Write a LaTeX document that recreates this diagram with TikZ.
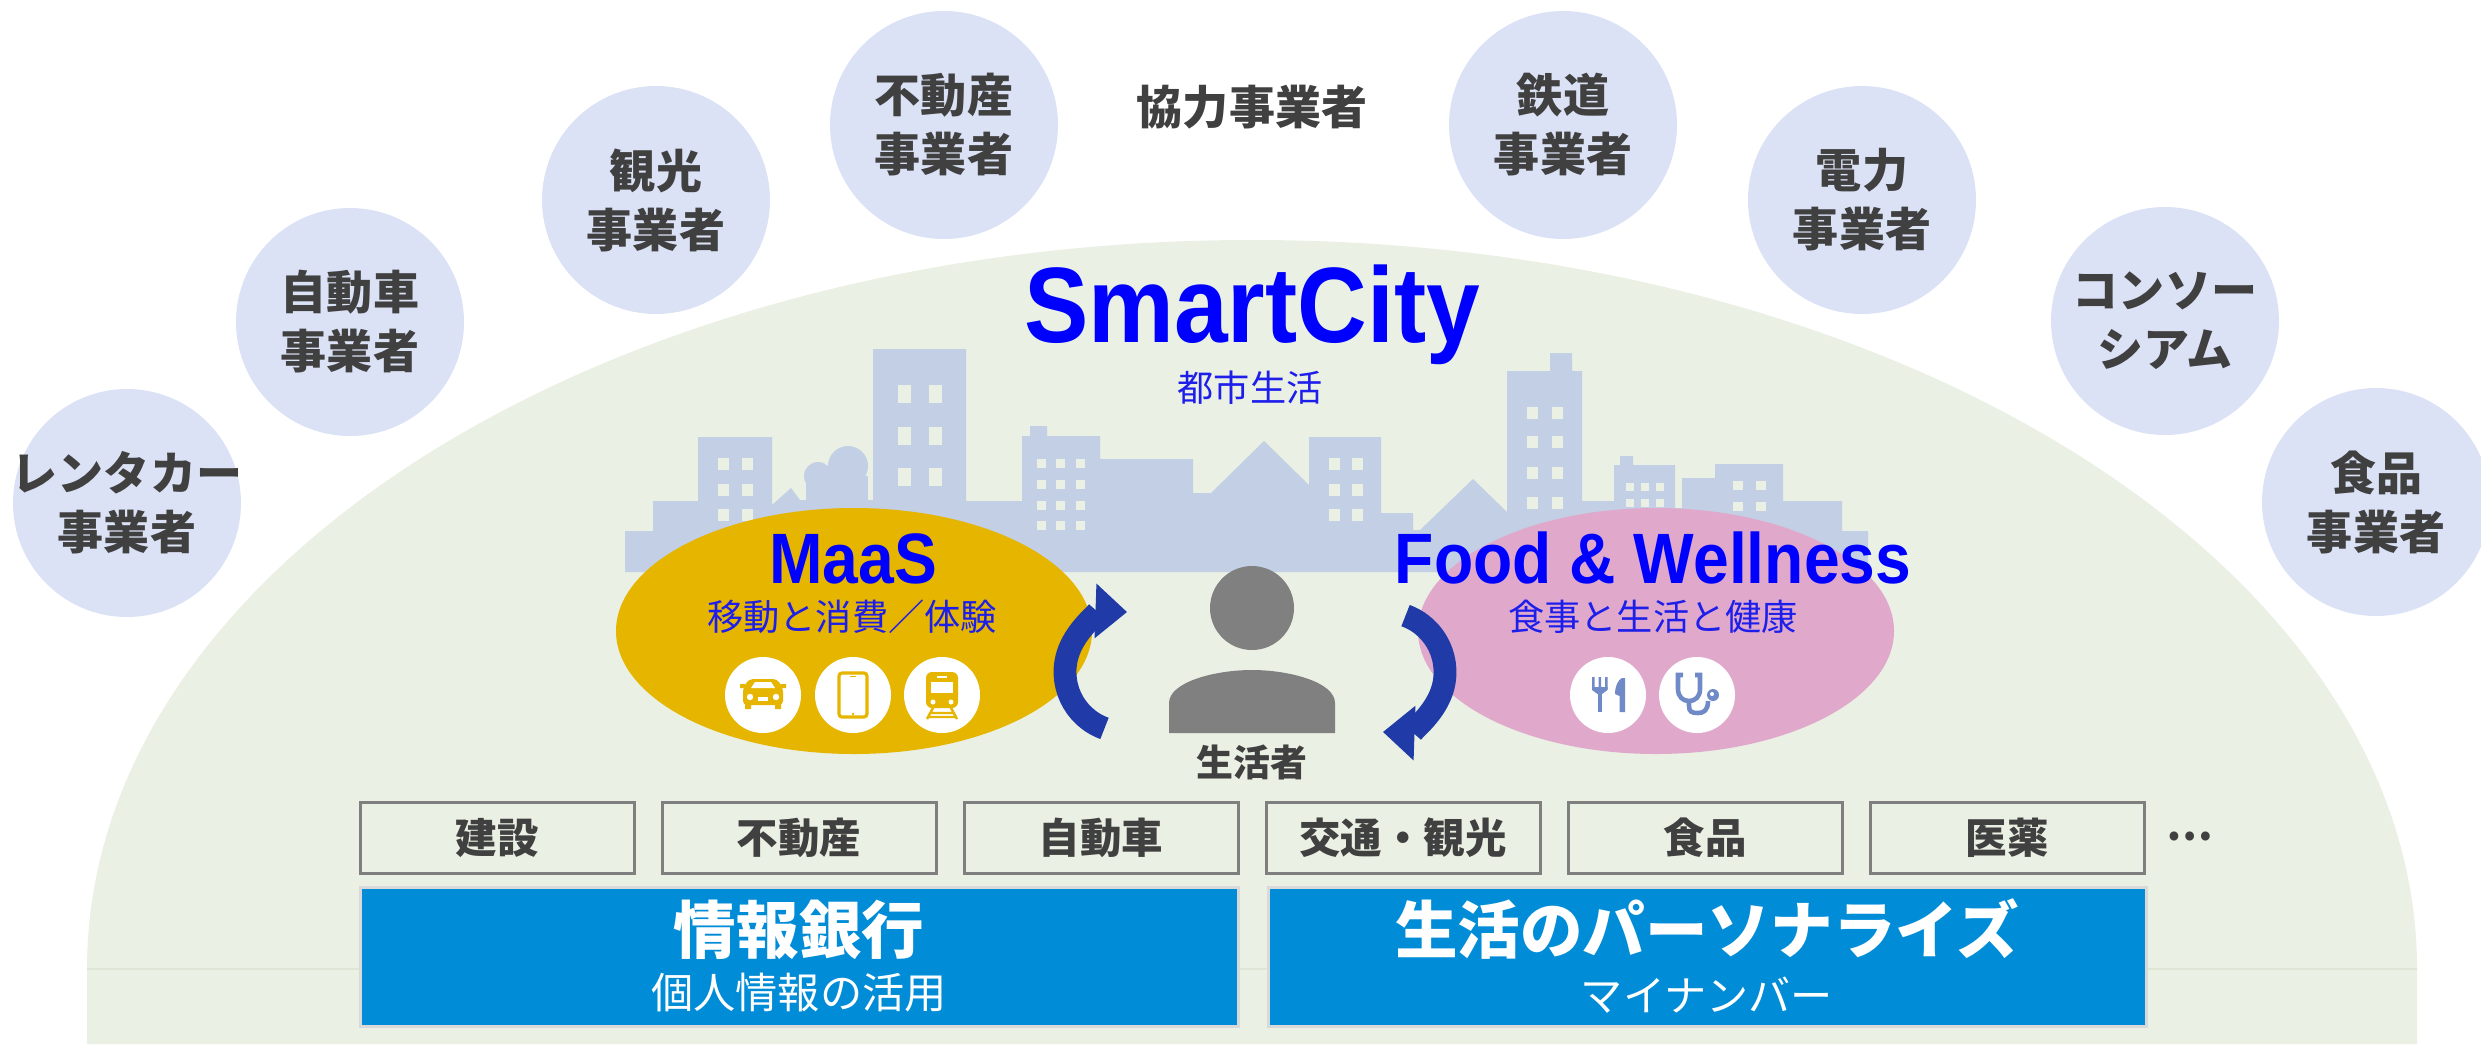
\documentclass[tikz,border=0pt]{standalone}
\usepackage{fontspec}
\setmainfont{Noto Sans CJK JP}
\newfontfamily\latinfont[FakeStretch=0.9]{Liberation Sans}
\usepackage{tikz}
\usetikzlibrary{shapes.geometric,arrows.meta}

\definecolor{domegreen}{RGB}{234,240,227}
\definecolor{domeline}{RGB}{222,230,214}
\definecolor{skyblue}{RGB}{194,207,229}
\definecolor{partnerblue}{RGB}{220,226,246}
\definecolor{darktext}{RGB}{64,64,64}
\definecolor{maasgold}{RGB}{229,181,0}
\definecolor{foodpink}{RGB}{224,169,203}
\definecolor{iconblue}{RGB}{111,138,198}
\definecolor{arrowblue}{RGB}{32,58,168}
\definecolor{bankblue}{RGB}{0,140,214}
\definecolor{bankedge}{RGB}{217,217,217}
\definecolor{boxedge}{RGB}{127,127,127}
\definecolor{persongrey}{RGB}{128,128,128}
\definecolor{titleblue}{RGB}{0,0,255}
\definecolor{subblue}{RGB}{30,30,235}

\newcommand{\partnerfont}{\fontsize{13.1pt}{16.8pt}\selectfont\bfseries}
\newcommand{\cityfont}{\latinfont\bfseries\fontsize{30.5pt}{30.5pt}\selectfont}
\newcommand{\areafont}{\latinfont\bfseries\fontsize{20.3pt}{20.3pt}\selectfont}
\newcommand{\subfont}{\fontsize{10.3pt}{12pt}\selectfont}
\newcommand{\personfont}{\fontsize{10.5pt}{12pt}\selectfont\bfseries}
\newcommand{\boxfont}{\fontsize{11.8pt}{14pt}\selectfont\bfseries}
\newcommand{\bankfont}{\fontsize{17.8pt}{20pt}\selectfont\bfseries}
\newcommand{\banksubfont}{\fontsize{12pt}{14pt}\selectfont}

\tikzstyle{partner}=[circle, fill=partnerblue, minimum size=22.8mm, inner sep=0pt]
\tikzstyle{partnertext}=[align=center, text=darktext, font=\partnerfont, inner sep=0pt]
\tikzstyle{area}=[ellipse, minimum width=47.6mm, minimum height=24.6mm, inner sep=0pt]
\tikzstyle{areatitle}=[anchor=base, text=titleblue, font=\areafont, inner sep=0pt]
\tikzstyle{areasub}=[text=subblue, font=\subfont, inner sep=0pt]
\tikzstyle{iconball}=[circle, fill=white, minimum size=7.6mm, inner sep=0pt]
\tikzstyle{roundarrow}=[arrowblue, line width=6.5pt, -{Triangle[length=9pt, width=15pt]}]
\tikzstyle{industry}=[draw=boxedge, line width=0.85pt, fill=domegreen, minimum width=27.4mm, minimum height=7.1mm, inner sep=0pt, text=darktext, font=\boxfont]
\tikzstyle{bank}=[draw=bankedge, line width=0.85pt, fill=bankblue, minimum width=87.8mm, minimum height=13.9mm, inner sep=0pt]
\tikzstyle{banktitle}=[text=white, font=\bankfont, inner sep=0pt]
\tikzstyle{banksub}=[text=white, font=\banksubfont, inner sep=0pt]

\begin{document}
\begin{tikzpicture}[x=0.1mm, y=-0.1mm]
\useasboundingbox (0,0) rectangle (2481,1044);

% green dome of the city
\fill[domegreen] (87,969) arc[start angle=180, end angle=360, x radius=1165, y radius=729] -- (2417,1044) -- (87,1044) -- cycle;
\draw[domeline, line width=0.5pt] (87,969) -- (2417,969);

% partners round the dome
\foreach \x/\y/\id/\lbl in {127/503/rental/レンタカー\\事業者, 350/322/carco/自動車\\事業者, 656/200/tour/観光\\事業者, 944/125/estate/不動産\\事業者, 1563/125/rail/鉄道\\事業者, 1862/200/power/電力\\事業者, 2165/321/consort/コンソー\\シアム, 2376/502/foodco/食品\\事業者}{
	\node[partner] (\id) at (\x,\y) {};
	\node[partnertext] at (\id) {\lbl};
}
\node[partnertext] (coop) at (1252,107) {協力事業者};

% skyline
\fill[skyblue] (625,572) -- (625,531) -- (653,531) -- (653,501) -- (698,501) -- (698,437) -- (772,437) -- (772,505) -- (791,488) -- (800,500) -- (873,500) -- (873,349) -- (966,349) -- (966,501) -- (1022,501) -- (1022,436) -- (1030,436) -- (1030,426) -- (1047,426) -- (1047,436) -- (1100,436) -- (1100,459) -- (1193,459) -- (1193,493) -- (1211,493) -- (1264,441) -- (1309,485) -- (1309,437) -- (1381,437) -- (1381,513) -- (1413,513) -- (1413,530) -- (1420,530) -- (1473,479) -- (1507,512) -- (1507,371) -- (1550,371) -- (1550,353) -- (1572,353) -- (1572,371) -- (1582,371) -- (1582,501) -- (1614,501) -- (1614,465) -- (1620,465) -- (1620,456) -- (1633,456) -- (1633,465) -- (1675,465) -- (1675,508) -- (1682,508) -- (1682,478) -- (1715,478) -- (1715,464) -- (1783,464) -- (1783,501) -- (1842,501) -- (1842,531) -- (1868,531) -- (1868,572) -- cycle;
% trees
\fill[skyblue] (818,476) circle[radius=14];
\fill[skyblue] (848,466) circle[radius=20];
\fill[skyblue] (806,476) rectangle (868,505);
% windows
\foreach \x in {718,742} \foreach \y in {458,484,509} \fill[domegreen] (\x,\y) rectangle ++(11,12);
\foreach \x in {898,929} \foreach \y in {385,427,468} \fill[domegreen] (\x,\y) rectangle ++(13,18);
\foreach \x in {1037,1056,1076} \foreach \y in {459,480,501,521} \fill[domegreen] (\x,\y) rectangle ++(9,9);
\foreach \x in {1329,1352} \foreach \y in {458,484,509} \fill[domegreen] (\x,\y) rectangle ++(11,12);
\foreach \x in {1527,1552} \foreach \y in {407,436,467,497} \fill[domegreen] (\x,\y) rectangle ++(11,12);
\foreach \x in {1626,1641,1656} \foreach \y in {483,499} \fill[domegreen] (\x,\y) rectangle ++(8,8);
\foreach \x in {1733,1756} \foreach \y in {481,502} \fill[domegreen] (\x,\y) rectangle ++(10,9);

% the two service areas
\node[area, fill=maasgold] (maas) at (854,631) {};
\node[area, fill=foodpink] (food) at (1656,631) {};
\node[iconball] (carball) at (763,695) {};
\node[iconball] (tabball) at (853,695) {};
\node[iconball] (trainball) at (942,695) {};
\node[iconball] (forkball) at (1608,695) {};
\node[iconball] (stethball) at (1697,695) {};

% car
\fill[maasgold, rounded corners=0.4mm] (743,705) -- (743,688) -- (749,679) -- (777,679) -- (783,688) -- (783,705) -- cycle;
\fill[white] (751,688) -- (755,682) -- (771,682) -- (775,688) -- cycle;
\fill[maasgold] (740,684) rectangle (745,688) (781,684) rectangle (786,688);
\fill[maasgold] (745,704) rectangle (751,709) (775,704) rectangle (781,709);
\fill[white] (750,697) circle[radius=3.2] (776,697) circle[radius=3.2];
\fill[white] (758,697) rectangle (768,701);
% tablet
\draw[maasgold, line width=0.9pt, rounded corners=0.3mm] (839,673) rectangle (867,717);
\draw[maasgold, line width=0.5pt] (850,676.5) -- (856,676.5);
\fill[maasgold] (853,714) circle[radius=1.3];
% train
\fill[maasgold, rounded corners=0.6mm] (926,672) rectangle (958,708);
\fill[white] (931,682) rectangle (953,693);
\draw[white, line width=0.6pt] (937,677) -- (947,677);
\fill[white] (933,702) circle[radius=2.5] (951,702) circle[radius=2.5];
\draw[maasgold, line width=0.7pt] (934,706) -- (927,719) (950,706) -- (957,719) (930,713) -- (954,713) (928,717) -- (956,717);
% fork and knife
\fill[iconblue] (1592,677) rectangle (1594.5,689) (1598.5,677) rectangle (1601,689) (1605,677) rectangle (1607.5,689);
\fill[iconblue] (1592,687) -- (1607.5,687) -- (1607.5,690) -- (1602,694) -- (1597.5,694) -- (1592,690) -- cycle;
\fill[iconblue] (1597.5,692) rectangle (1602,712);
\fill[iconblue] (1625,678) -- (1625,712) -- (1619.5,712) -- (1619.5,696) -- (1615,694) .. controls (1615,686) and (1618,680) .. (1622,678) -- cycle;
% stethoscope
\draw[iconblue, line width=1.3pt] (1683,675) -- (1678,675) -- (1678,689) .. controls (1678,697) and (1683,701) .. (1689,701) .. controls (1695,701) and (1700,697) .. (1700,689) -- (1700,675) -- (1695,675);
\draw[iconblue, line width=1.3pt] (1689,701) -- (1689,706) .. controls (1689,712) and (1692,713) .. (1698,713) .. controls (1704,713) and (1708,710) .. (1708,701);
\fill[iconblue] (1713,695) circle[radius=6];
\fill[white] (1712,694) circle[radius=2];

% person in the middle
\node[circle, fill=persongrey, minimum size=8.4mm, inner sep=0pt] (head) at (1252,608) {};
\fill[persongrey] (1169,733) -- (1169,703) .. controls (1169,682) and (1215,670) .. (1252,670) .. controls (1289,670) and (1335,682) .. (1335,703) -- (1335,733) -- cycle;
\node[text=darktext, font=\personfont, inner sep=0pt] (dweller) at (1252,762) {生活者};

% turning arrows
\draw[roundarrow] (1125,672) ++(110:60) arc[start angle=110, end angle=272, radius=60];
\draw[roundarrow] (1385,672) ++(290:60) arc[start angle=290, end angle=452, radius=60];

% titles
\node[anchor=base, text=titleblue, font=\cityfont, inner sep=0pt] (city) at (1252,342) {SmartCity};
\node[areasub] (citysub) at (1250,388) {都市生活};
\node[areatitle] (maastitle) at (853,583) {MaaS};
\node[areasub] (maassub) at (852,617) {移動と消費／体験};
\node[areatitle] (foodtitle) at (1653,583) {Food \& Wellness};
\node[areasub] (foodsub) at (1653,617) {食事と生活と健康};

% industries
\foreach \i/\id/\lbl in {0/build/建設, 1/realty/不動産, 2/auto/自動車, 3/travel/交通・観光, 4/meal/食品, 5/pharma/医薬}{
	\node[industry] (\id) at (497+302*\i, 838) {\lbl};
}
\node[text=darktext, font=\boxfont, inner sep=0pt] (more) at (2190,836) {…};

% data platforms
\node[bank] (infobank) at (799,957) {};
\node[banktitle] at (799,930) {情報銀行};
\node[banksub] at (799,993) {個人情報の活用};
\node[bank] (personal) at (1707,957) {};
\node[banktitle] at (1707,929) {生活のパーソナライズ};
\node[banksub] at (1707,995) {マイナンバー};
\end{tikzpicture}
\end{document}
